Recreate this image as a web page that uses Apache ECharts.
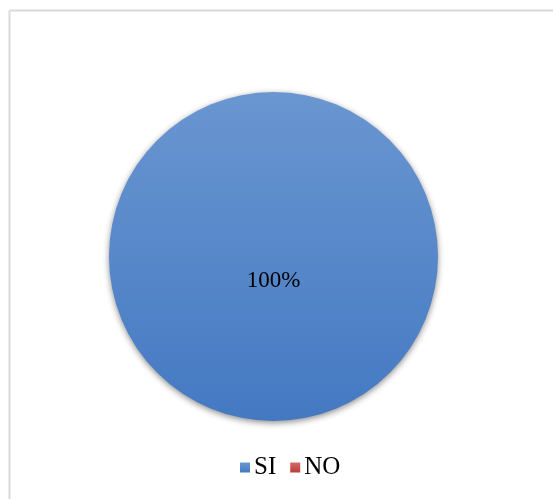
<!DOCTYPE html>
<html>
<head>
<meta charset="utf-8">
<script src="https://cdn.jsdelivr.net/npm/echarts@6/dist/echarts.min.js"></script>
<style>
html,body{margin:0;padding:0;background:#fff;}
#c{width:553px;height:499px;}
</style>
</head>
<body>
<div id="c"></div>
<script>
const categories = ['SI', 'NO'];
const values = [100, 0];
const colorsTop = ['#6a96d1', '#d46a68'];
const colorsBottom = ['#4479c2', '#b83e3b'];

const chart = echarts.init(document.getElementById('c'), null, {renderer: 'canvas'});
const data = categories.map((name, i) => ({
  name: name,
  value: values[i],
  itemStyle: {
    color: new echarts.graphic.LinearGradient(0, 0, 0, 1, [
      {offset: 0, color: colorsTop[i]},
      {offset: 1, color: colorsBottom[i]}
    ])
  },
  label: {show: values[i] > 0}
}));

chart.setOption({
  animation: false,
  backgroundColor: '#fff',
  graphic: [
    {type: 'line', shape: {x1: 9.5, y1: 10.5, x2: 553, y2: 10.5}, style: {stroke: '#d9d9d9', lineWidth: 2}},
    {type: 'line', shape: {x1: 9.5, y1: 10.5, x2: 9.5, y2: 499}, style: {stroke: '#d9d9d9', lineWidth: 2}}
  ],
  legend: {
    data: categories,
    top: 455,
    left: 240,
    padding: 0,
    icon: 'rect',
    itemWidth: 10,
    itemHeight: 10,
    itemGap: 14,
    textStyle: {fontFamily: 'Liberation Serif', fontSize: 25, color: '#000', padding: [0, 0, 0, -1]}
  },
  series: [{
    type: 'pie',
    center: [273.5, 256.5],
    radius: 164.5,
    startAngle: 90,
    clockwise: true,
    legendHoverLink: false,
    silent: true,
    labelLine: {show: false},
    label: {
      position: 'center',
      offset: [0, 24],
      formatter: '{d}%',
      fontFamily: 'Liberation Serif',
      fontSize: 23,
      color: '#000'
    },
    itemStyle: {
      shadowBlur: 6,
      shadowColor: 'rgba(0,0,0,0.45)',
      shadowOffsetY: 2
    },
    data: data
  }]
});
</script>
</body>
</html>
